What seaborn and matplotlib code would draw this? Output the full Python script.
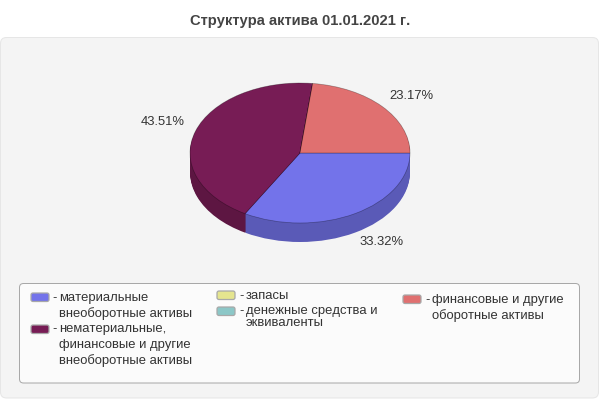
import matplotlib
matplotlib.use('Agg')
import matplotlib.pyplot as plt
import seaborn as sns
from matplotlib.patches import FancyBboxPatch

# Data
categories = ['материальные\nвнеоборотные активы',
              'нематериальные,\nфинансовые и другие\nвнеоборотные активы',
              'запасы',
              'денежные средства и\nэквиваленты',
              'финансовые и другие\nоборотные активы']
shares = [33.32, 43.51, 0.0, 0.0, 23.17]
colors = ['#7373EA', '#771C55', '#E5E58F', '#8CC7C7', '#E07070']
title = 'Структура актива 01.01.2021 г.'

sns.set_theme(style='white')
plt.rcParams['font.family'] = ['Liberation Sans', 'DejaVu Sans']
plt.rcParams['text.kerning_factor'] = 6
TEXT = '#333333'
W, H = 600, 400

fig = plt.figure(figsize=(6, 4), dpi=100, facecolor='white')

# background axes in pixel coordinates
bg = fig.add_axes([0, 0, 1, 1])
bg.set_xlim(0, W)
bg.set_ylim(H, 0)
bg.axis('off')


def box(x0, y0, x1, y1, face, edge, r=4, lw=0.72):
    bg.add_patch(FancyBboxPatch((x0 + r, y0 + r), x1 - x0 - 2 * r, y1 - y0 - 2 * r,
                                boxstyle=f'round,pad={r},rounding_size={r}',
                                fc=face, ec=edge, lw=lw))


box(0.5, 37.5, 598.5, 398, '#F4F4F4', '#E6E6E6', r=6)
box(19.5, 283.5, 579.5, 383, '#FBFBFB', '#A8A8A8', r=4)

bg.text(300, 21, title, ha='center', va='center', fontsize=10.6,
        fontweight='bold', color='#444444')

# pie: unit circle stretched to an ellipse, wall made from stacked dark layers
rx, ry, cx, cy, depth = 110, 70, 300, 153, 19
ax = fig.add_axes([(cx - rx) / W, 1 - (cy + ry) / H, 2 * rx / W, 2 * ry / H])
palette = sns.color_palette(colors)
dark = [tuple(c * 0.78 for c in col) for col in palette]
for d in range(depth, 0, -1):
    ax.pie(shares, colors=dark, startangle=0, counterclock=False,
           center=(0, -d / ry),
           wedgeprops={'linewidth': 0, 'clip_on': False, 'antialiased': True})
ax.pie(shares, colors=palette, startangle=0, counterclock=False,
       wedgeprops={'linewidth': 0.5, 'edgecolor': '#00000055', 'clip_on': False})
ax.set_aspect('auto')
ax.set_xlim(-1, 1)
ax.set_ylim(-1, 1)
ax.axis('off')

# percent labels
label_pos = {0: (382, 242), 1: (163, 122), 4: (411, 96)}
for i, (x, y) in label_pos.items():
    bg.text(x, y, f'{shares[i]:.2f}%', ha='center', va='center',
            fontsize=9.4, color=TEXT, zorder=5)

# legend
legend_pos = [(31, 293, 59, 298, 16), (31, 325, 59, 329, 16), (217, 291, 246, 296, 12),
              (217, 307, 246, 311, 12), (403, 295, 432, 300, 16)]
for name, col, (sx, sy, tx, ty, step) in zip(categories, colors, legend_pos):
    box(sx, sy, sx + 18, sy + 8.5, col, '#A8A8A8', r=2, lw=0.9)
    bg.text(tx - 7, ty, '-', ha='left', va='center', fontsize=9.4, color=TEXT)
    for k, line in enumerate(name.split('\n')):
        bg.text(tx, ty + k * step, line, ha='left', va='center',
                fontsize=9.4, color=TEXT)

fig.savefig('out.png', dpi=100)
